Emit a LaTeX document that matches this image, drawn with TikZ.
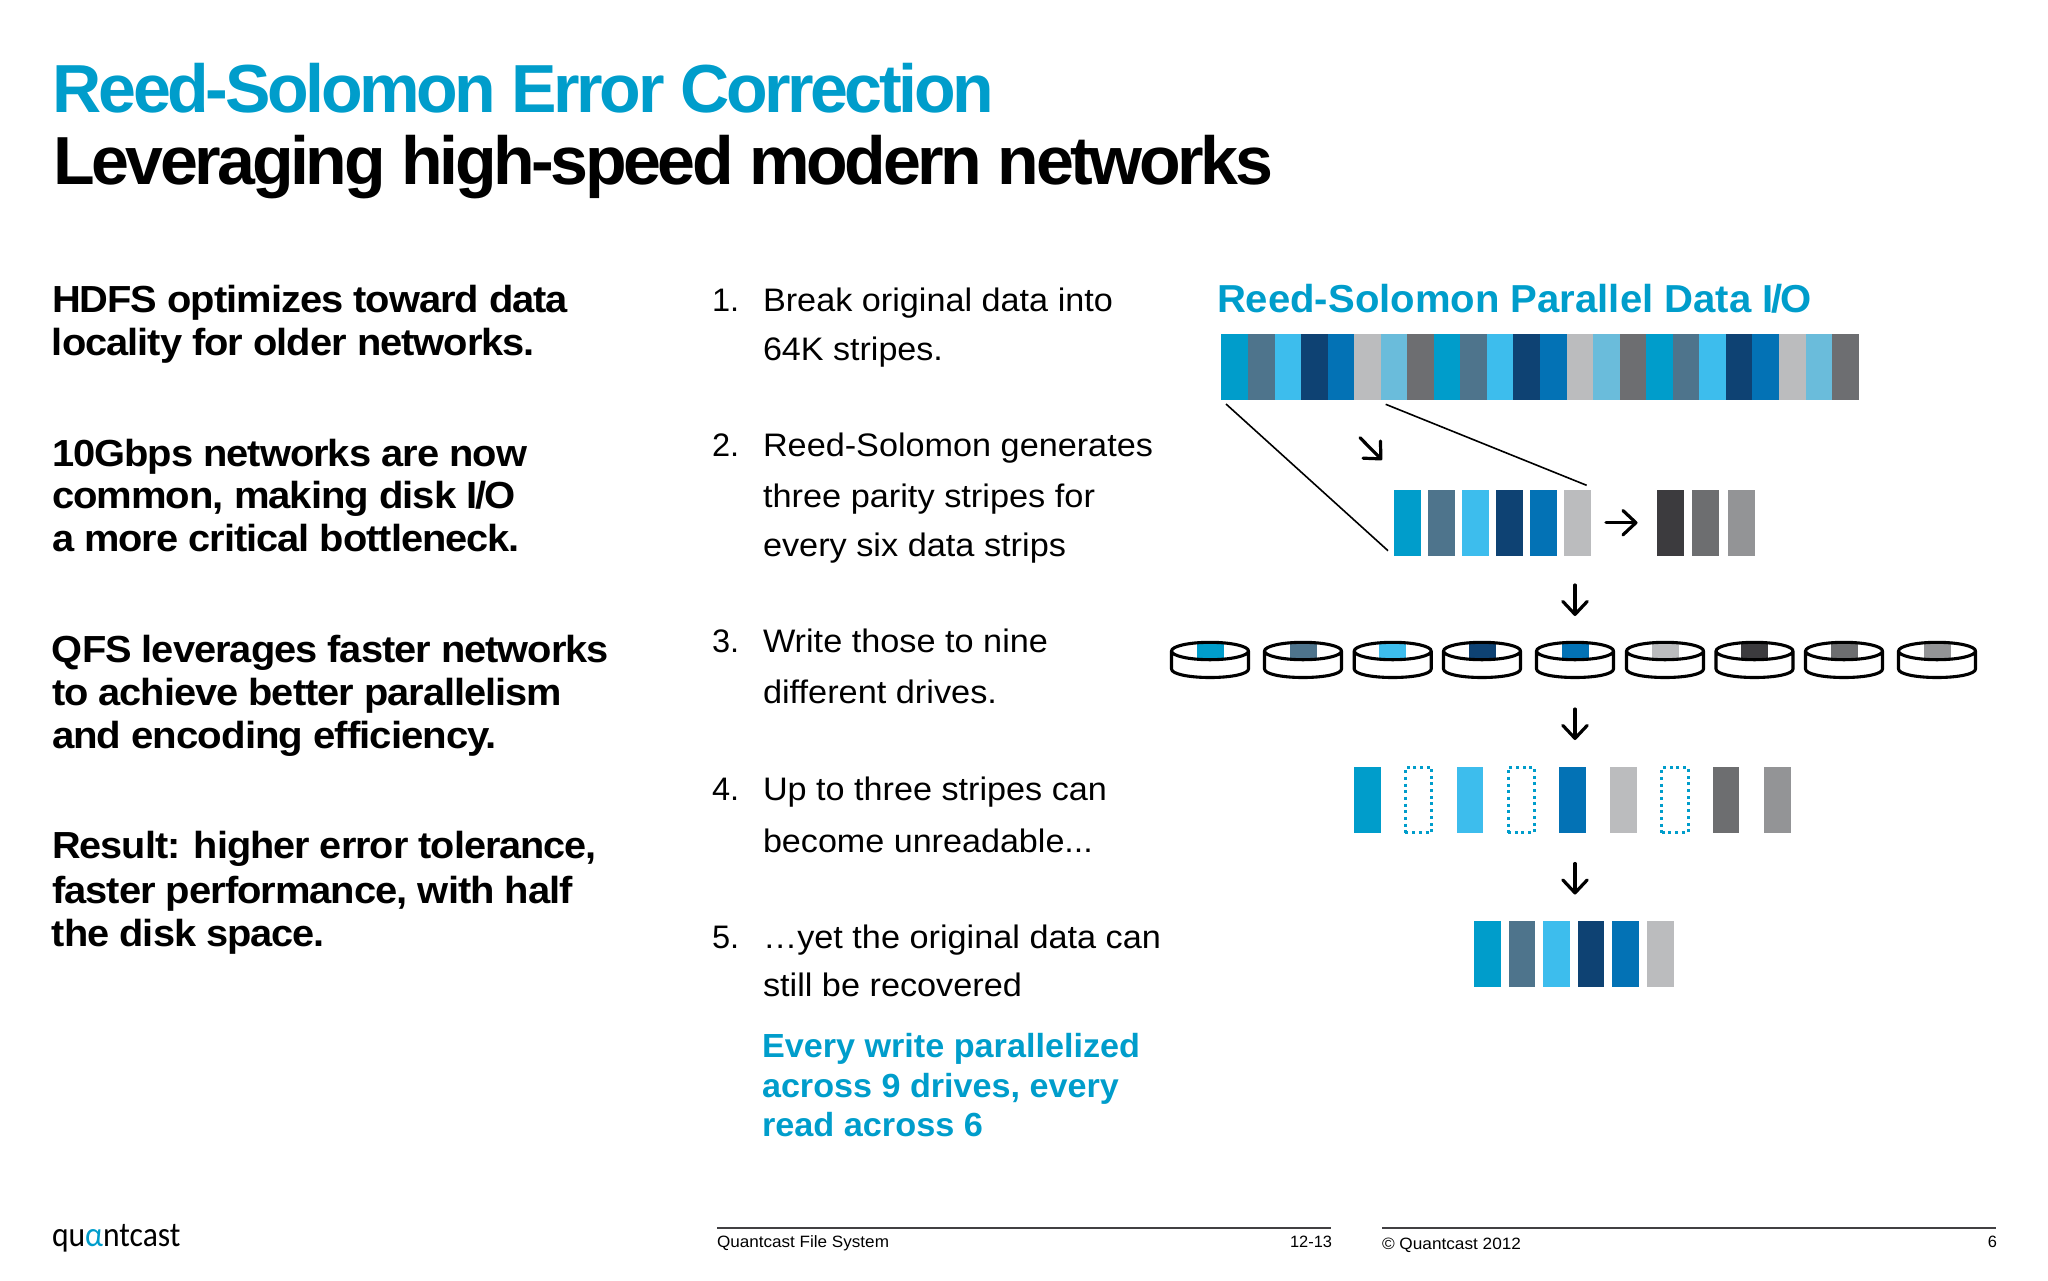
\documentclass[tikz,border=0pt]{standalone}
\usepackage{fontspec}
\usepackage{graphicx}
\usetikzlibrary{arrows.meta}
\setmainfont{Liberation Sans}
\newfontfamily\titlef{Liberation Sans}[LetterSpace=-5]
\newfontfamily\leftf{Liberation Sans}[LetterSpace=-2.5]
\newfontfamily\logof{Carlito}
\definecolor{c1}{HTML}{009DCB}
\definecolor{c2}{HTML}{4E748C}
\definecolor{c3}{HTML}{3DBDED}
\definecolor{c4}{HTML}{0E4273}
\definecolor{c5}{HTML}{0372B5}
\definecolor{c6}{HTML}{BBBCBE}
\definecolor{c7}{HTML}{6ABCDB}
\definecolor{c8}{HTML}{6D6E71}
\definecolor{p1}{HTML}{3C3B3E}
\definecolor{p2}{HTML}{6D6E70}
\definecolor{p3}{HTML}{939496}
\definecolor{rule}{HTML}{414042}
\newsavebox\fitbox
\newcommand\fitw[2]{\sbox\fitbox{#2}\pgfmathsetmacro\fx{#1*0.5pt/\the\wd\fitbox}\scalebox{\fx}[1]{\usebox\fitbox}}
\tikzset{
  txt/.style={inner sep=0pt,outer sep=0pt,anchor=base west},
  title/.style={txt,font=\titlef\bfseries\fontsize{34}{40}\selectfont},
  lefttxt/.style={txt,font=\leftf\bfseries\fontsize{18.85}{22}\selectfont},
  mid/.style={txt,font=\fontsize{16.27}{20}\selectfont},
  blue/.style={txt,text=c1,font=\bfseries\fontsize{16.7}{20}\selectfont},
  foot/.style={txt,font=\fontsize{8.2}{10}\selectfont},
  footr/.style={foot,anchor=base east},
  strip/.style={rectangle,inner sep=0pt,outer sep=0pt,minimum width=13.5pt,minimum height=33pt,anchor=north west},
  barstrip/.style={strip,minimum width=13.4pt},
  lost/.style={rectangle,inner sep=0pt,outer sep=0pt,minimum width=13.25pt,minimum height=32.5pt,anchor=center,
     draw=c1,line width=1.5pt,dash pattern=on 1.5pt off 1.85pt},
  thin line/.style={line width=0.8pt,black},
  arr/.style={line width=1.6pt,black,line cap=round,-{Straight Barb[length=6.5pt,width=12.2pt,round]}},
  disk/.style={line width=1.55pt,black,line join=round},
  footrule/.style={line width=1pt,rule},
}
\begin{document}
\begin{tikzpicture}[x=0.5pt,y=-0.5pt]
\useasboundingbox (0,0) rectangle (2048,1280);
% titles
\node[title,text=c1] (t1) at (53,112.7) {\fitw{941}{Reed-Solomon Error Correction}};
\node[title] (t2) at (53,184) {\fitw{1220}{Leveraging high-speed modern networks}};
% left column
\node[lefttxt] (l1) at (52,312.7) {\fitw{516}{HDFS optimizes toward data}};
\node[lefttxt] (l2) at (52,355.7) {\fitw{483}{locality for older networks.}};
\node[lefttxt] (l3) at (52,466.7) {\fitw{475}{10Gbps networks are now}};
\node[lefttxt] (l4) at (52,508) {\fitw{464}{common, making disk I\kern-.06em/\kern-.04em O}};
\node[lefttxt] (l5) at (52,551.7) {\fitw{468}{a more critical bottleneck.}};
\node[lefttxt] (l6) at (52,662.3) {\fitw{557}{QFS leverages faster networks}};
\node[lefttxt] (l7) at (52,705) {\fitw{510}{to achieve better parallelism}};
\node[lefttxt] (l8) at (52,748.3) {\fitw{445}{and encoding efficiency.}};
\node[lefttxt] (l9) at (52,858.3) {\fitw{545}{Result: higher error tolerance,}};
\node[lefttxt] (l10) at (52,903.3) {\fitw{521}{faster performance, with half}};
\node[lefttxt] (l11) at (52,946.7) {\fitw{273}{the disk space.}};
% numbered list
\node[mid] (n1) at (712,311.7) {1.};
\node[mid] (m1) at (763,311.7) {\fitw{350}{Break original data into}};
\node[mid] (m1b) at (763,360) {\fitw{180}{64K stripes.}};
\node[mid] (n2) at (712,456.7) {2.};
\node[mid] (m2) at (763,456.7) {\fitw{390}{Reed-Solomon generates}};
\node[mid] (m2b) at (763,507.3) {\fitw{332}{three parity stripes for}};
\node[mid] (m2c) at (763,556) {\fitw{303}{every six data strips}};
\node[mid] (n3) at (712,652.7) {3.};
\node[mid] (m3) at (763,652.7) {\fitw{285}{Write those to nine}};
\node[mid] (m3b) at (763,703.3) {\fitw{234}{different drives.}};
\node[mid] (n4) at (712,800.7) {4.};
\node[mid] (m4) at (763,800.7) {\fitw{344}{Up to three stripes can}};
\node[mid] (m4b) at (763,852.7) {\fitw{330}{become unreadable...}};
\node[mid] (n5) at (712,948.3) {5.};
\node[mid] (m5) at (763,948.3) {\fitw{398}{…yet the original data can}};
\node[mid] (m5b) at (763,996.7) {\fitw{259}{still be recovered}};
\node[blue] (b1) at (762,1057.3) {\fitw{378}{Every write parallelized}};
\node[blue] (b2) at (762,1097.3) {\fitw{357}{across 9 drives, every}};
\node[blue] (b3) at (762,1136.7) {\fitw{221}{read across 6}};
% heading
\node[txt,text=c1,font=\bfseries\fontsize{19.5}{24}\selectfont] (h) at (1217,312.3) {\fitw{595}{Reed-Solomon Parallel Data I\kern-.06em/\kern-.04em O}};
% top bar
\foreach \i/\c in {0/c1,1/c2,2/c3,3/c4,4/c5,5/c6,6/c7,7/c8,8/c1,9/c2,10/c3,11/c4,12/c5,13/c6,14/c7,15/c8,16/c1,17/c2,18/c3,19/c4,20/c5,21/c6,22/c7,23/c8}
  \node[barstrip,fill=\c] (s\i) at ({1221.4+26.55*\i},334) {};
% six data stripes and parity
\foreach \i/\c/\x in {1/c1/1394,2/c2/1428,3/c3/1462,4/c4/1496,5/c5/1530,6/c6/1564,7/p1/1657,8/p2/1692.4,9/p3/1728}
  \node[strip,fill=\c] (d\i) at (\x,489.5) {};
% expansion lines
\coordinate (e1a) at (1226,404);
\coordinate (e1b) at (1388,550.7);
\coordinate (e2a) at (1385.7,404.3);
\coordinate (e2b) at (1586.6,485.3);
\draw[thin line] (e1a) -- (e1b);
\draw[thin line] (e2a) -- (e2b);
% arrows
\coordinate (a0s) at (1360,437.7);
\coordinate (a0e) at (1382,460);
\coordinate (a1s) at (1606,522.7);
\coordinate (a1e) at (1637.5,522.7);
\coordinate (a2s) at (1575,585);
\coordinate (a2e) at (1575,616);
\coordinate (a3s) at (1575,709);
\coordinate (a3e) at (1575,740);
\coordinate (a4s) at (1575,863.5);
\coordinate (a4e) at (1575,894.5);
\draw[arr] (a0s) -- (a0e);
\draw[arr] (a1s) -- (a1e);
\draw[arr] (a2s) -- (a2e);
\draw[arr] (a3s) -- (a3e);
\draw[arr] (a4s) -- (a4e);
% disks
\foreach \cx/\c in {1210/c1,1303/c2,1392.7/c3,1482/c4,1575/c5,1665/c6,1754.5/p1,1844/p2,1937/p3}{
  \begin{scope}[shift={(\cx,651)}]
    \fill[\c] (-13.5,-8) rectangle (13.5,8);
    \draw[disk] (-38.5,0) .. controls (-38.5,-4.8) and (-21.3,-8.7) .. (0,-8.7)
       .. controls (21.3,-8.7) and (38.5,-4.8) .. (38.5,0)
       .. controls (38.5,4.8) and (21.3,8.7) .. (0,8.7)
       .. controls (-21.3,8.7) and (-38.5,4.8) .. (-38.5,0) -- (-38.5,18)
       .. controls (-38.5,23) and (-21.3,26.5) .. (0,26.5)
       .. controls (21.3,26.5) and (38.5,23) .. (38.5,18) -- (38.5,0);
  \end{scope}
}
% row after failures
\foreach \i/\c/\x in {1/c1/1354,3/c3/1456.7,5/c5/1559,6/c6/1610,8/p2/1712.7,9/p3/1764}
  \node[strip,fill=\c,minimum width=13.35pt] (r\i) at (\x,766.7) {};
\node[lost] (r2) at (1418.7,800) {};
\node[lost] (r4) at (1521.3,800) {};
\node[lost] (r7) at (1675,800) {};
% recovered row
\foreach \i/\c/\x in {1/c1/1474,2/c2/1508.7,3/c3/1543.3,4/c4/1577.7,5/c5/1612.3,6/c6/1647.3}
  \node[strip,fill=\c,minimum width=13.35pt] (f\i) at (\x,920.7) {};
% footer
\node[txt,font=\logof\fontsize{17.5}{20}\selectfont] (logo) at (52,1246) {\fitw{128.5}{qu{\color{c1}α}ntcast}};
\coordinate (r1a) at (717,1227.7);
\coordinate (r1b) at (1331,1227.7);
\coordinate (r2a) at (1382,1227.7);
\coordinate (r2b) at (1996,1227.7);
\draw[footrule] (r1a) -- (r1b);
\draw[footrule] (r2a) -- (r2b);
\node[foot] (f1t) at (717,1247.7) {\fitw{172}{Quantcast File System}};
\node[footr] (f2t) at (1332,1247.7) {12-13};
\node[foot] (f3t) at (1382,1249.3) {\fitw{139}{© Quantcast 2012}};
\node[footr] (f4t) at (1997,1247.7) {6};
\end{tikzpicture}
\end{document}
